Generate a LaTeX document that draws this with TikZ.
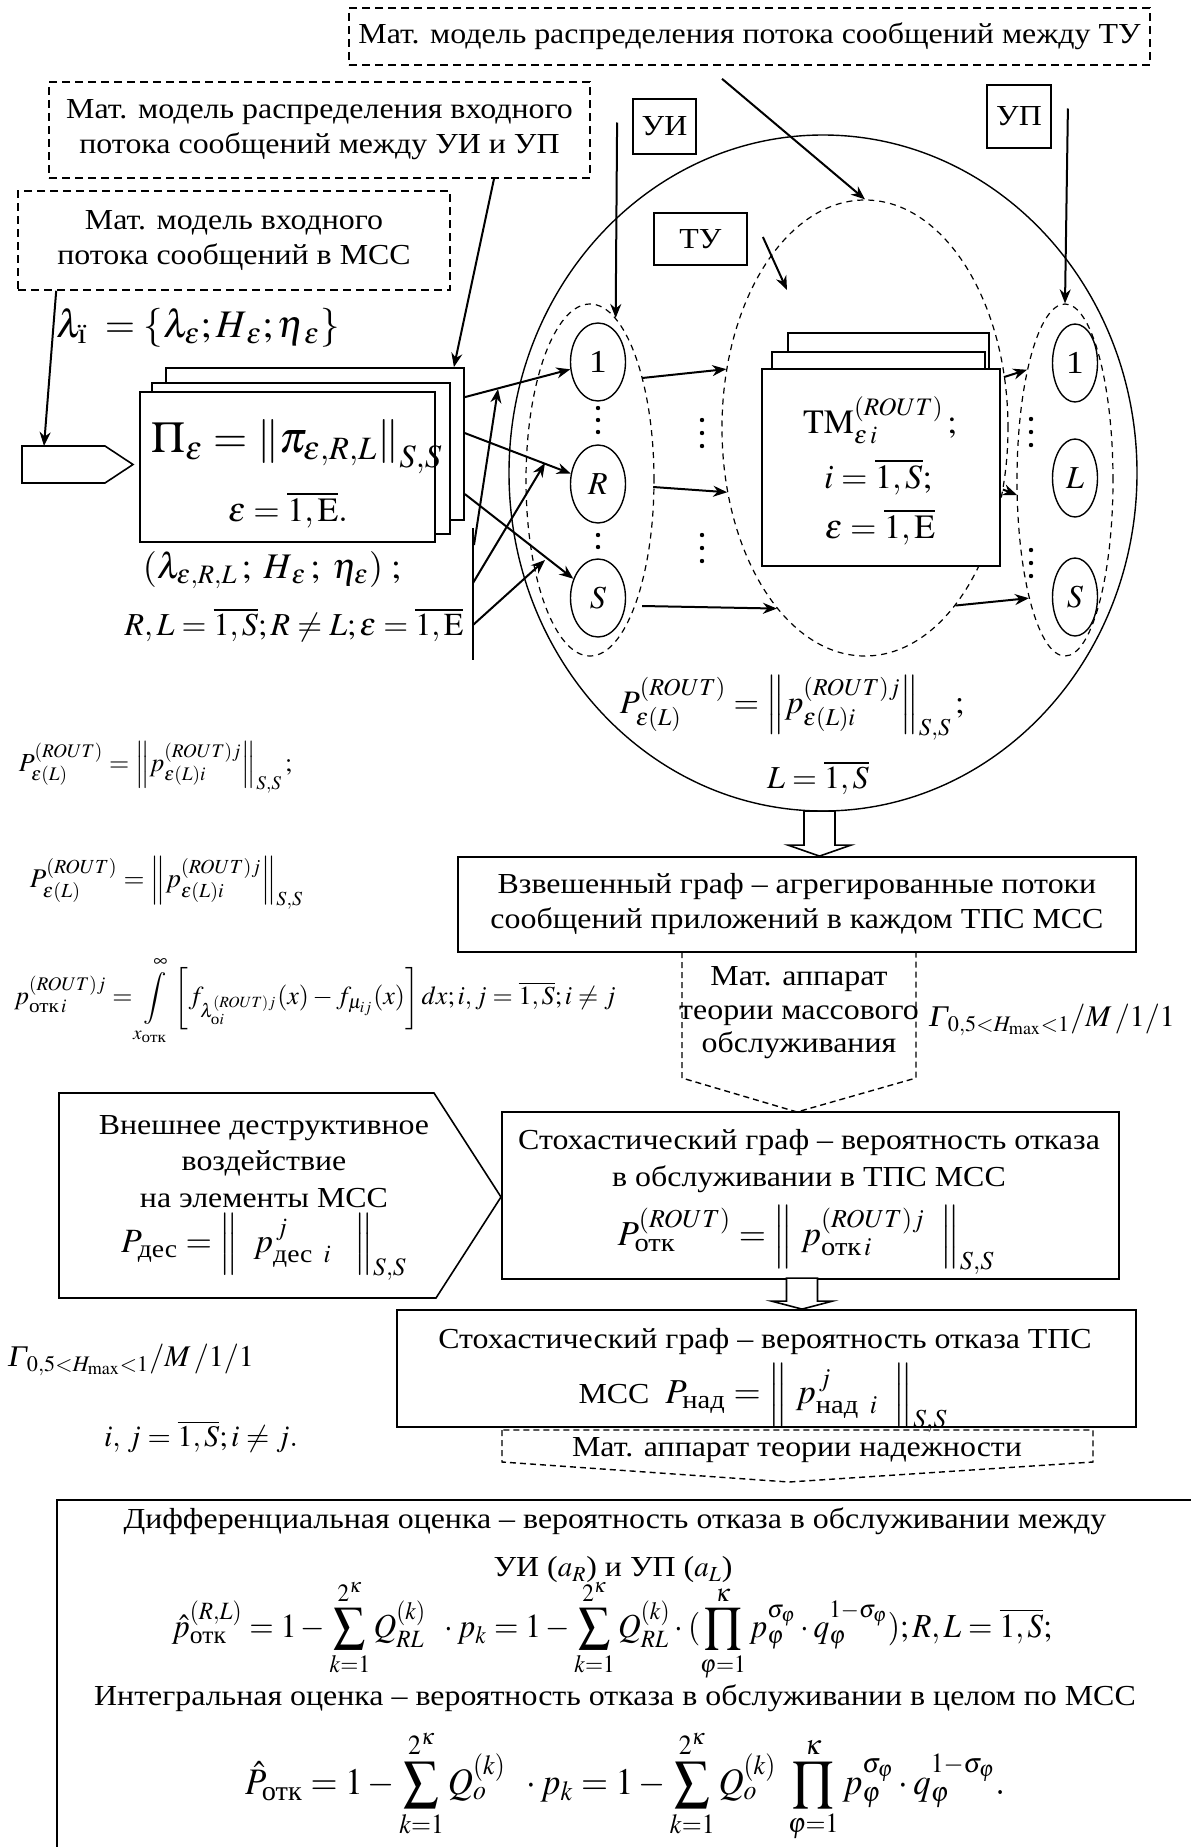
\documentclass[tikz,border=0pt]{standalone}
\usepackage{amsmath}
\usepackage{graphicx}
\usepackage{mathptmx}
\usepackage{fontspec}
\setmainfont{Liberation Serif}[FakeStretch=1.1]
\usetikzlibrary{arrows.meta,shapes.geometric,calc}

\tikzset{
  every node/.style={inner sep=0pt, align=center, font=\fontsize{14.5}{17.5}\selectfont},
  dbox/.style={draw, dash pattern=on 4pt off 2.5pt, line width=0.8pt},
  blok/.style={draw, fill=white, line width=0.9pt},
  ell/.style={ellipse, draw, line width=0.7pt},
  dell/.style={ellipse, draw, dash pattern=on 3pt off 2.5pt, line width=0.6pt},
  arr/.style={-{Stealth[length=7pt,width=5.5pt]}, line width=1pt},
  hollow/.style={draw, fill=white, line width=0.8pt},
  dpent/.style={draw, dash pattern=on 3pt off 2pt, line width=0.7pt},
  fml/.style={font=\fontsize{#1}{#1}\selectfont},
}

\begin{document}
\begin{tikzpicture}[x=0.5pt,y=-0.5pt]
\useasboundingbox (0,0) rectangle (1190,1847);

%% modeli vverhu
\draw (749.5,36.5) node[dbox, minimum width=400.5pt, minimum height=28.5pt] (mtu) {Мат. модель распределения потока сообщений между ТУ};
\draw (319.5,130) node[dbox, minimum width=270.5pt, minimum height=48pt] (muiup) {Мат. модель распределения входного\\потока сообщений между УИ и УП};
\draw (234,240.5) node[dbox, minimum width=216pt, minimum height=49.5pt] (mvx) {Мат. модель входного\\потока сообщений в МСС};
\draw (198,328) node[fml=19.5] (lam) {$\lambda_{\text{ї}}\;=\left\{\lambda_{\varepsilon};H_{\,\varepsilon};\eta_{\,\varepsilon}\right\}$};

%% vhodnoj potok
\draw[line width=0.8pt] (22,446) -- (105,446) -- (133,464.5) -- (105,483) -- (22,483) -- cycle;
\coordinate (vx) at (44,446);

%% MSS
\draw (823,473) node[ell, minimum width=314pt, minimum height=338pt] (mss) {};
\draw (590,480) node[dell, minimum width=64pt, minimum height=176pt] (lev) {};
\draw (865,428) node[dell, minimum width=143pt, minimum height=228pt] (mid) {};
\draw (1065,480) node[dell, minimum width=48pt, minimum height=176pt] (prav) {};
\draw (664.5,126.5) node[blok, minimum width=31.5pt, minimum height=27.5pt] (ui) {УИ};
\draw (1019,116.5) node[blok, minimum width=32pt, minimum height=31.5pt] (up) {УП};
\draw (700.5,239) node[blok, minimum width=46.5pt, minimum height=26pt] (tu) {ТУ};

\draw (598,362) node[ell, fml=16, minimum width=27.5pt, minimum height=39pt] (u1) {1};
\draw (598,484) node[ell, fml=16, minimum width=27.5pt, minimum height=39pt] (uR) {$R$};
\draw (598,598) node[ell, fml=16, minimum width=27.5pt, minimum height=39pt] (uS) {$S$};
\draw (1075,363) node[ell, fml=16, minimum width=22.5pt, minimum height=39pt] (p1) {1};
\draw (1075,478) node[ell, fml=16, minimum width=22.5pt, minimum height=39pt] (pL) {$L$};
\draw (1075,597) node[ell, fml=16, minimum width=22.5pt, minimum height=39pt] (pS) {$S$};
\foreach \y in {408,420,432,535,547} \fill (598,\y) circle (1.1pt);
\foreach \y in {420,433,446,535,548,561} \fill (702,\y) circle (1.1pt);
\foreach \y in {419,432,445,550,563,576} \fill (1031,\y) circle (1.1pt);

\draw (888.5,436.5) node[blok, minimum width=100.5pt, minimum height=103.5pt] (tm3) {};
\draw (878.5,451) node[blok, minimum width=106.5pt, minimum height=99pt] (tm2) {};
\draw (881,467.5) node[blok, minimum width=119pt, minimum height=98.5pt] (tm1) {};
\draw (880,420) node[fml=17] (tmeq) {$\mathrm{TM}^{(ROUT)}_{\varepsilon\,i}\,;$};
\draw (878,477) node[fml=17] (tmi) {$i=\overline{1,S};$};
\draw (880,527) node[fml=17] (tme) {$\varepsilon=\overline{1,\mathrm{E}}$};
\draw (792,708) node[fml=16.4] (Pin) {$P^{(ROUT)}_{\varepsilon(L)}=\left\|p^{(ROUT)j}_{\varepsilon(L)i}\right\|_{S,S};$};
\draw (818,778) node[fml=16] (Lr) {$L=\overline{1,S}$};

%% matrica Pi
\draw (315,444) node[blok, minimum width=149pt, minimum height=76pt] (pi3) {};
\draw (301,458.5) node[blok, minimum width=149pt, minimum height=75.5pt] (pi2) {};
\draw (287.5,467) node[blok, minimum width=147.5pt, minimum height=75pt] (pi1) {};
\draw (297,447) node[fml=22] (pieq) {$\Pi_{\varepsilon}=\left\|\pi_{\varepsilon,R,L}\right\|_{S,S}$};
\draw (288,510) node[fml=17] (pieps) {$\varepsilon=\overline{1,\mathrm{E}}.$};
\draw (272,570) node[fml=18] (lamRL) {$(\lambda_{\varepsilon,R,L}\,;\;H_{\,\varepsilon}\,;\;\eta_{\varepsilon})\;;$};
\draw (294,625) node[fml=16] (RLr) {$R,L=\overline{1,S};R\neq L;\varepsilon=\overline{1,\mathrm{E}}$};

\draw[line width=1pt] (473,528) -- (473,660);
\coordinate (va) at (474,545); \coordinate (vaE) at (498,389);
\coordinate (vb) at (473,583); \coordinate (vbE) at (545,463);
\coordinate (vc) at (473,625); \coordinate (vcE) at (545,560);
\coordinate (tuE) at (787,290);
\coordinate (tmE) at (1017,495);

\path[arr] ($(mvx.south west)+(39,0)$) edge (vx);
\path[arr] ($(muiup.south)+(174.5,0)$) edge ($(pi3.north east)+(-11,0)$);
\path[arr] ($(pi3.north east)+(0,30)$) edge (u1);
\path[arr] ($(pi3.north east)+(0,66)$) edge (uR);
\path[arr] ($(pi3.north east)+(0,127)$) edge (uS);
\path[arr] (va) edge (vaE);
\path[arr] (vb) edge (vbE);
\path[arr] (vc) edge (vcE);
\path[arr] ($(ui.west)+(-15,-4)$) edge (lev.81.7);
\path[arr] ($(up.east)+(16,-8)$) edge (prav.north);
\path[arr] ($(mtu.south)+(-27.5,13)$) edge (mid.north);
\path[arr] ($(tu.east)+(15,-2)$) edge (tuE);
\path[arr] ($(u1.east)+(16,16)$) edge (mid.157.6);
\path[arr] ($(uR.east)+(27,3)$) edge (mid.205.9);
\path[arr] ($(uS.east)+(16,8)$) edge (mid.244.8);
\path[arr] ($(tm1.north east)+(3,9)$) edge (prav.109.4);
\path[arr] ($(tm1.east)+(2,22)$) edge (tmE);
\path[arr] (mid.-63) edge (prav.253.5);

%% formuly sleva
\draw (155.5,767) node[fml=13] (Pl1) {$P^{(ROUT)}_{\varepsilon(L)}=\left\|p^{(ROUT)j}_{\varepsilon(L)i}\right\|_{S,S};$};
\draw (166.5,883) node[fml=13.5] (Pl2) {$P^{(ROUT)}_{\varepsilon(L)}=\left\|p^{(ROUT)j}_{\varepsilon(L)i}\right\|_{S,S}$};
\draw (315,1001) node[fml=13] (potk) {$p^{(ROUT)j}_{\text{отк}\,i}=\displaystyle\int\limits_{x_{\text{отк}}}^{\infty}\left[f_{\lambda^{(ROUT)j}_{\text{o}i}}(x)-f_{\mu_{ij}}(x)\right]dx;i,j=\overline{1,S};i\neq j$};
\draw (131,1360) node[fml=15] (gam2) {$\textit{Γ}_{0,5<H_{\max}<1}/M\,/1/1$};
\draw (201,1437) node[fml=15] (ij) {$i,\,j=\overline{1,S};i\neq j.$};

%% nizhnjaja chast'
\draw (797,904.5) node[blok, minimum width=339pt, minimum height=47.5pt] (vzv) {Взвешенный граф – агрегированные потоки\\сообщений приложений в каждом ТПС МСС};
\coordinate (h1) at ($(vzv.north)+(22.5,0)$);
\draw[hollow] (h1) -- ++(31.5,-11) -- ++(-16,0) -- ++(0,-34) -- ++(-31,0) -- ++(0,34) -- ++(-16,0) -- cycle;
\draw[dpent] (682,952) -- (682,1078) -- (797,1112) -- (916,1078) -- (916,952);
\draw (799,1013) node[font=\fontsize{14.5}{16.75}\selectfont] (tmo) {Мат. аппарат\\теории массового\\обслуживания};
\draw (1052,1020) node[fml=15] (gam1) {$\textit{Γ}_{0,5<H_{\max}<1}/M\,/1/1$};

\draw (810.5,1195.5) node[blok, minimum width=308.5pt, minimum height=83.5pt] (stoh) {};
\draw (809,1161.5) node[font=\fontsize{14.5}{18.5}\selectfont] (stohtxt) {Стохастический граф – вероятность отказа\\в обслуживании в ТПС МСС};
\draw (806,1240) node[fml=17.5] (stoheq) {$P^{(ROUT)}_{\text{отк}}=\left\|\;p^{(ROUT)j}_{\text{отк}\,i}\;\;\right\|_{S,S}$};

\draw[line width=0.8pt] (59,1093) -- (434,1093) -- (501,1197) -- (436,1298) -- (59,1298) -- cycle;
\draw (264,1161.5) node[font=\fontsize{14.5}{18.25}\selectfont] (vntxt) {Внешнее деструктивное\\воздействие\\на элементы МСС};
\draw (264,1247) node[fml=17] (vneq) {$P_{\text{дес}}=\left\|\;\;p^{\,j}_{\text{дес}\;\;i}\;\;\;\right\|_{S,S}$};

\draw (766.5,1368.5) node[blok, minimum width=369.5pt, minimum height=58.5pt] (nad) {};
\coordinate (h2) at ($(nad.north)+(35.5,0)$);
\draw[hollow] (h2) -- ++(30.5,-8) -- ++(-15,0) -- ++(0,-23) -- ++(-31,0) -- ++(0,23) -- ++(-15,0) -- cycle;
\draw (765,1342) node (nadtxt) {Стохастический граф – вероятность отказа ТПС};
\draw (763,1398) node (nadeq) {МСС\; {\fontsize{17.5}{17.5}\selectfont$P_{\text{над}}=\left\|\;p^{\,j}_{\text{над}\;\;i}\;\;\right\|_{S,S}$}};
\draw[dpent] (502,1430) -- (502,1462) -- (789,1482) -- (1093,1462) -- (1093,1430) -- cycle;
\draw (797,1450) node (tntxt) {Мат. аппарат теории надежности};

%% ocenki
\draw[blok] (57,1500) rectangle (1260,1900);
\draw (615,1521) node (difo) {Дифференциальная оценка – вероятность отказа в обслуживании между};
\draw (613,1570) node (uiup) {УИ ($a_R$) и УП ($a_L$)};
\draw (612,1630) node[fml=16.8] (fdif) {\scalebox{0.935}[1]{$\hat{p}^{(R,L)}_{\text{отк}}=1-\displaystyle\sum\limits_{k=1}^{2^{\kappa}}Q^{(k)}_{RL}\;\;\cdot p_k=1-\sum\limits_{k=1}^{2^{\kappa}}Q^{(k)}_{RL}\cdot(\prod\limits_{\varphi=1}^{\kappa}p_{\varphi}^{\sigma_{\varphi}}\cdot q_{\varphi}^{1-\sigma_{\varphi}});R,L=\overline{1,S};$}};
\draw (615,1698) node (into) {Интегральная оценка – вероятность отказа в обслуживании в целом по МСС};
\draw (625,1786) node[fml=18.7] (fint) {\scalebox{0.93}[1]{$\hat{P}_{\text{отк}}=1-\displaystyle\sum\limits_{k=1}^{2^{\kappa}}Q^{(k)}_{o}\;\;\cdot p_k=1-\sum\limits_{k=1}^{2^{\kappa}}Q^{(k)}_{o}\;\prod\limits_{\varphi=1}^{\kappa}p_{\varphi}^{\sigma_{\varphi}}\cdot q_{\varphi}^{1-\sigma_{\varphi}}.$}};

\end{tikzpicture}
\end{document}
